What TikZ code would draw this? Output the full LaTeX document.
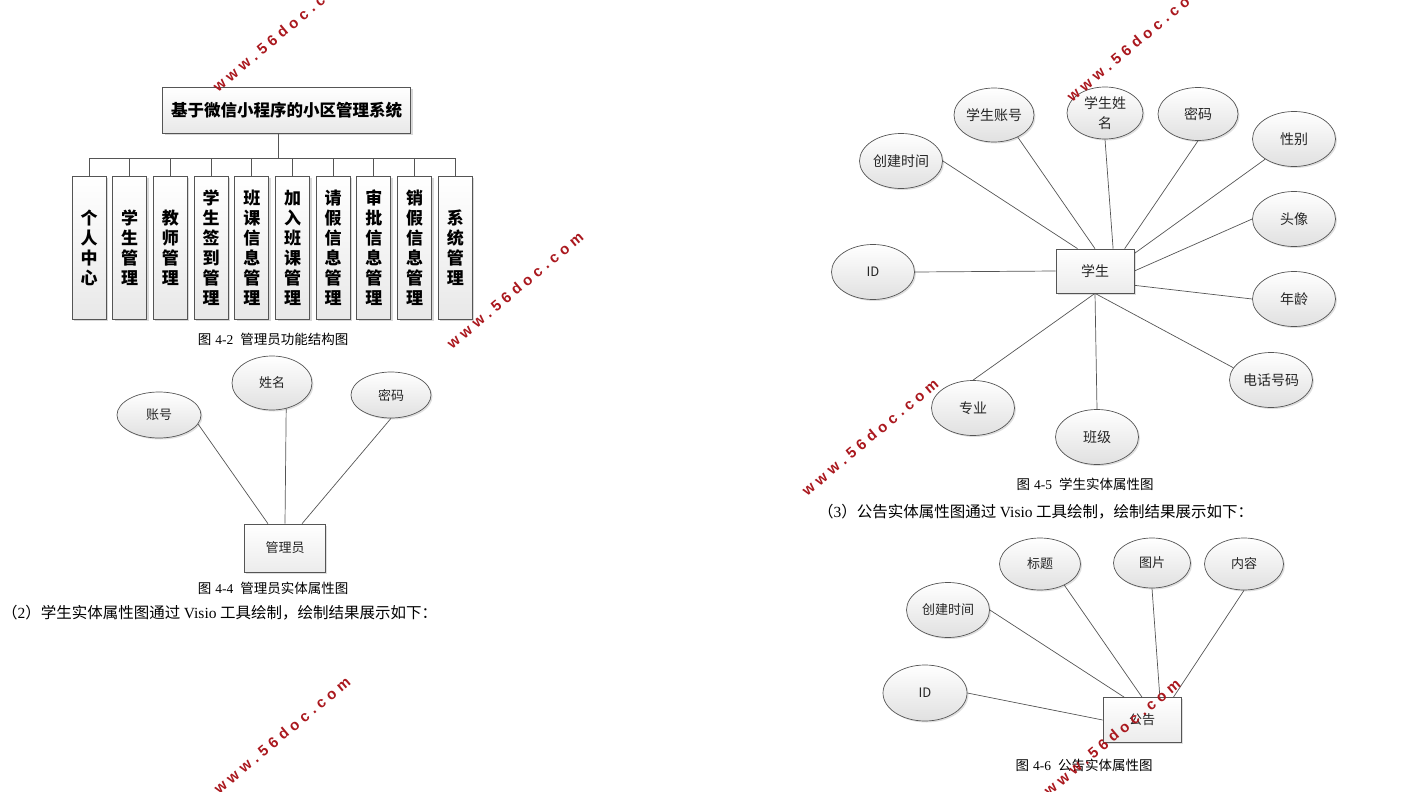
\documentclass[tikz,border=0pt]{standalone}
\usepackage{fontspec}
\setmainfont{Noto Sans CJK SC}
\newfontfamily\latinserif{Liberation Serif}
\newfontfamily\wmfont{Liberation Sans}
\usetikzlibrary{shapes.geometric, shadows}

\definecolor{edgegray}{RGB}{85,85,85}
\definecolor{wmred}{RGB}{170,24,30}

\newcommand\wk{\kern4.6pt}
\newcommand\wmtext{w\wk w\wk w\wk .\wk 5\wk 6\wk d\wk o\wk c\wk .\wk c\wk o\wk m}
\newcommand\lat[1]{{\latinserif #1}}
\newcommand\figno[1]{图\hspace{4pt}\lat{#1}\hspace{7pt}}

\begin{document}
\begin{tikzpicture}[x=1pt, y=-1pt,
  module/.style={draw=edgegray, line width=0.9pt, top color=white, bottom color=gray!18,
    drop shadow={shadow xshift=2pt, shadow yshift=-2pt, fill=gray!60},
    minimum width=34pt, minimum height=143pt, inner sep=0pt, align=center,
    font=\bfseries\fontsize{17}{20}\selectfont},
  attr/.style={ellipse, draw=edgegray, line width=0.7pt, top color=white, bottom color=gray!24,
    drop shadow={shadow xshift=1.5pt, shadow yshift=-1.5pt, fill=gray!50},
    minimum width=83pt, minimum height=55pt, inner sep=0pt, align=center,
    text=black!85, font=\fontsize{14}{20}\selectfont},
  entity/.style={draw=edgegray, line width=0.7pt, top color=white, bottom color=gray!15,
    drop shadow={shadow xshift=1.5pt, shadow yshift=-1.5pt, fill=gray!50},
    minimum width=78pt, minimum height=44pt, inner sep=0pt,
    text=black!85, font=\fontsize{14}{16}\selectfont},
  link/.style={draw=edgegray, line width=0.7pt},
  caption/.style={inner sep=0pt, font=\fontsize{13.5}{15}\selectfont},
  bodyline/.style={anchor=west, inner sep=0pt, font=\fontsize{15.5}{18}\selectfont},
  wmark/.style={text=wmred, inner sep=0pt, rotate=40, font=\wmfont\bfseries\fontsize{15}{17}\selectfont}]
  \useasboundingbox (0,0) rectangle (1422,792);

  % admin function tree
  \node[module, minimum width=248pt, minimum height=46pt, font=\bfseries\fontsize{16.5}{18}\selectfont]
    (sys) at (286.5,110) {基于微信小程序的小区管理系统};
  \coordinate (bus) at (278,158);
  \foreach \txt [count=\i] in {个\\人\\中\\心, 学\\生\\管\\理, 教\\师\\管\\理, 学\\生\\签\\到\\管\\理,
      班\\课\\信\\息\\管\\理, 加\\入\\班\\课\\管\\理, 请\\假\\信\\息\\管\\理,
      审\\批\\信\\息\\管\\理, 销\\假\\信\\息\\管\\理, 系\\统\\管\\理}
    \node[module] (m\i) at ({89+40.7*(\i-1)},247.5) {\txt};
  \draw[link, line width=0.9pt] (sys.south -| bus) -- (bus);
  \foreach \i in {1,...,10}
    \draw[link, line width=0.9pt] (m\i.north) |- (bus);
  \node[caption] (cap2) at (273,339) {\figno{4-2}管理员功能结构图};

  % admin entity
  \node[entity, minimum width=81pt, minimum height=48pt, font=\fontsize{13}{15}\selectfont]
    (adm) at (285,548) {管理员};
  \node[attr, minimum width=84pt, minimum height=46pt, font=\fontsize{13}{15}\selectfont] (acc) at (159,415) {账号};
  \node[attr, minimum width=80pt, minimum height=54pt, font=\fontsize{13}{15}\selectfont] (nam) at (272,383) {姓名};
  \node[attr, minimum width=80pt, minimum height=46pt, font=\fontsize{13}{15}\selectfont] (pwd) at (391,395) {密码};
  \draw[link] (acc.347) -- (adm.125);
  \draw[link] (nam.299) -- (adm.north);
  \draw[link] (pwd.south) -- (adm.55);
  \node[caption] (cap4) at (273,588) {\figno{4-4}管理员实体属性图};
  \node[bodyline] (txt2) at (2,613) {（\lat{2}）学生实体属性图通过 \lat{Visio} 工具绘制，绘制结果展示如下：};

  % student entity
  \node[entity] (stu) at (1095,271) {学生};
  \node[attr, minimum width=80pt, minimum height=54pt] (sacc) at (994,115) {学生账号};
  \node[attr, minimum width=76pt, minimum height=52pt] (snam) at (1105,113) {学生姓\\名};
  \node[attr, minimum width=80pt, minimum height=53pt] (spwd) at (1198,114) {密码};
  \node[attr] (ssex) at (1294,139) {性别};
  \node[attr] (stim) at (901,161) {创建时间};
  \node[attr] (sava) at (1294,219) {头像};
  \node[attr, font=\fontsize{13}{15}\selectfont] (sid) at (873,272) {ID};
  \node[attr] (sage) at (1294,299) {年龄};
  \node[attr] (stel) at (1271,380) {电话号码};
  \node[attr] (smaj) at (973,408) {专业};
  \node[attr] (scls) at (1097,437) {班级};
  \draw[link] (stim.east) -- (stu.128);
  \draw[link] (sacc.317) -- (stu.north);
  \draw[link] (snam.south) -- (stu.51);
  \draw[link] (spwd.south) -- (stu.37);
  \draw[link] (ssex.215) -- (stu.24);
  \draw[link] (sava.west) -- (stu.east);
  \draw[link] (sid.east) -- (stu.west);
  \draw[link] (stu.340) -- (sage.west);
  \draw[link] (stu.south) -- (stel.162);
  \draw[link] (stu.south) -- (smaj.north);
  \draw[link] (stu.south) -- (scls.north);
  \node[caption] (cap5) at (1085,484) {\figno{4-5}学生实体属性图};
  \node[bodyline] (txt3) at (818,512) {（\lat{3}）公告实体属性图通过 \lat{Visio} 工具绘制，绘制结果展示如下：};

  % notice entity
  \node[entity, minimum height=45pt, font=\fontsize{13}{15}\selectfont] (ntc) at (1142,720) {公告};
  \node[attr, minimum width=81pt, minimum height=52pt, font=\fontsize{13}{15}\selectfont] (ntit) at (1040,564) {标题};
  \node[attr, minimum width=77pt, minimum height=50pt, font=\fontsize{13}{15}\selectfont] (nimg) at (1152,563) {图片};
  \node[attr, minimum width=79pt, minimum height=52pt, font=\fontsize{13}{15}\selectfont] (ncon) at (1244,564) {内容};
  \node[attr, font=\fontsize{13}{15}\selectfont] (ntim) at (948,610) {创建时间};
  \node[attr, minimum width=84pt, minimum height=56pt, font=\fontsize{13}{15}\selectfont] (nid) at (925,693) {ID};
  \draw[link] (nid.east) -- (ntc.west);
  \draw[link] (ntim.east) -- (ntc.128);
  \draw[link] (ntit.319) -- (ntc.north);
  \draw[link] (nimg.south) -- (ntc.52);
  \draw[link] (ncon.south) -- (ntc.36);
  \node[caption] (cap6) at (1084,765) {\figno{4-6}公告实体属性图};

  % watermarks
  \node[wmark] (wm1) at (281,33) {\wmtext};
  \node[wmark] (wm2) at (515,290) {\wmtext};
  \node[wmark] (wm3) at (870,437) {\wmtext};
  \node[wmark] (wm4) at (1135,43) {\wmtext};
  \node[wmark] (wm5) at (282,735) {\wmtext};
  \node[wmark] (wm6) at (1112,737) {\wmtext};
\end{tikzpicture}
\end{document}
